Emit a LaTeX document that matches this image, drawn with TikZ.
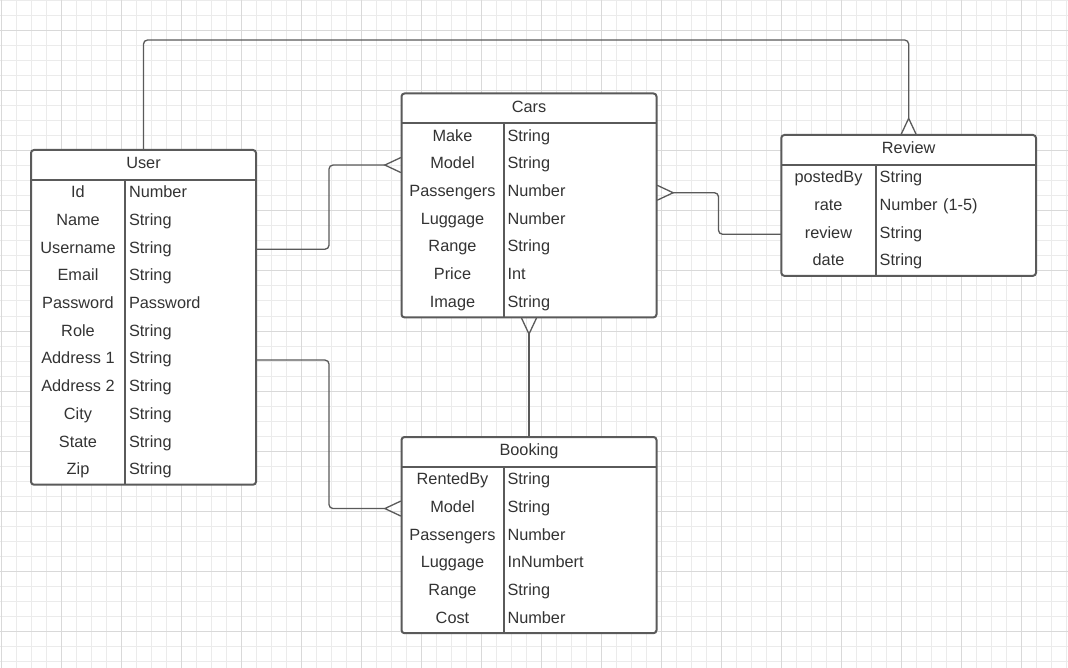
\documentclass[tikz,border=0pt]{standalone}
\usepackage{fontspec}
\setmainfont{Liberation Sans}
\usetikzlibrary{positioning,arrows.meta}

\definecolor{ink}{HTML}{5A5A5A}
\definecolor{txt}{HTML}{333333}
\definecolor{minorgrid}{HTML}{EBEBEB}
\definecolor{majorgrid}{HTML}{D9D9D9}

\tikzset{
	head/.style={fill=white, text=txt, minimum height=30pt, inner sep=0pt, outer sep=0pt,
		text height=11.7pt, text depth=4pt},
	field/.style={fill=white, text=txt, minimum height=27.7pt, inner sep=0pt, outer sep=0pt,
		text height=11.7pt, text depth=4pt},
	kind/.style={field, inner xsep=4pt, align=left},
	box/.style={draw=ink, line width=2pt, rounded corners=3pt},
	link/.style={draw=ink, line width=1.3pt, rounded corners=4pt},
	tomany/.style={-{Straight Barb[reversed, length=16pt, width=15pt]}},
	frommany/.style={{Straight Barb[reversed, length=16pt, width=15pt]}-}
}

% name, north west corner, title, name column, type column, rows
\newcommand{\entity}[6]{%
	\pgfmathsetmacro\typew{#5-8}
	\node[head, minimum width=#4+#5, anchor=north west] (#1) at (#2) {#3};
	\coordinate (#1-0) at (#1.south west);
	\foreach \fname/\ftype [count=\i, remember=\i as \p (initially 0)] in {#6} {
		\node[field, minimum width=#4, below right=0pt and 0pt of #1-\p.south west] (#1-\i) {\fname};
		\node[kind, text width=\typew pt, right=0pt of #1-\i] (#1-\i t) {\ftype};
		\xdef\lastrow{\i}
	}
	\draw[box] (#1.north west) rectangle (#1-\lastrow t.south east);
	\draw[box] (#1.south west) -- (#1.south east);
	\draw[box] (#1-1.north east) -- (#1-\lastrow.south east);
}

\begin{document}
\begin{tikzpicture}[x=1pt, y=-1pt, font=\fontsize{16.3pt}{19pt}\selectfont]
	\useasboundingbox (0,0) rectangle (1068,668);
	\fill[white] (0,0) rectangle (1068,668);
	
	\foreach \x in {1,16,...,1066} \draw[minorgrid, line width=1pt] (\x,0) -- (\x,668);
	\foreach \y in {1,16,...,661} \draw[minorgrid, line width=1pt] (0,\y) -- (1068,\y);
	\foreach \x in {1,61,...,1021} \draw[majorgrid, line width=1pt] (\x,0) -- (\x,668);
	\foreach \y in {31,91,...,631} \draw[majorgrid, line width=1pt] (0,\y) -- (1068,\y);
	
	\entity{user}{31,150}{User}{94}{131}{Id/Number, Name/String, Username/String,
		Email/String, Password/Password, Role/String, Address 1/String,
		Address 2/String, City/String, State/String, Zip/String}
	\entity{cars}{401.5,93.5}{Cars}{102}{153}{Make/String, Model/String,
		Passengers/Number, Luggage/Number, Range/String, Price/Int, Image/String}
	\entity{review}{781.3,135}{Review}{94.4}{160.3}{postedBy/String,
		rate/Number (1-5), review/String, date/String}
	\entity{booking}{401.5,437}{Booking}{102}{153}{RentedBy/String, Model/String,
		Passengers/Number, Luggage/InNumbert, Range/String, Cost/Number}
	
	\draw[link, tomany] (user.north) -- ++(0,-110) -| (review.north);
	\draw[link, tomany] (user-3t.east) -- ++(73,0) |- (cars-2.west);
	\draw[link, tomany] (user-7t.east) -- ++(73,0) |- (booking-2.west);
	\draw[link, frommany] (cars.south |- cars-7.south) -- (booking.north);
	\draw[link, frommany] (cars-3t.east) -- ++(62,0) |- (review-3.west);
\end{tikzpicture}
\end{document}
